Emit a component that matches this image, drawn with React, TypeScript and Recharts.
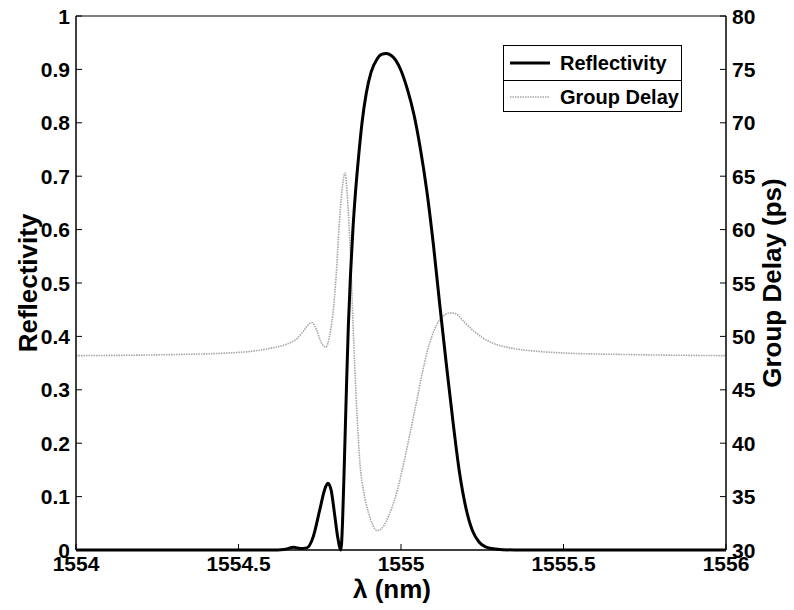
import React from "react";
import {
  LineChart,
  Line,
  XAxis,
  YAxis,
  Legend,
  Label,
  ReferenceLine,
} from "recharts";

// wavelength (nm) / reflectivity samples
const reflWl = [
  1554.0, 1554.6, 1554.64, 1554.67, 1554.69, 1554.71, 1554.73, 1554.75,
  1554.765, 1554.775, 1554.785, 1554.795, 1554.805, 1554.815, 1554.82,
  1554.826, 1554.832, 1554.838, 1554.845, 1554.852, 1554.86, 1554.87,
  1554.88, 1554.893, 1554.908, 1554.925, 1554.94, 1554.955, 1554.97,
  1554.985, 1555.0, 1555.02, 1555.04, 1555.06, 1555.08, 1555.1, 1555.12,
  1555.14, 1555.16, 1555.18, 1555.2, 1555.22, 1555.24, 1555.26, 1555.29,
  1555.35, 1556.0,
];
const reflVal = [
  0, 0, 0.001, 0.005, 0.003, 0.004, 0.025, 0.075, 0.113, 0.125, 0.112, 0.07,
  0.025, 0.0, 0.05, 0.17, 0.3, 0.42, 0.52, 0.6, 0.67, 0.74, 0.8, 0.855, 0.895,
  0.918, 0.928, 0.93, 0.926, 0.916, 0.898, 0.862, 0.815, 0.75, 0.67, 0.57,
  0.455, 0.345, 0.24, 0.145, 0.078, 0.036, 0.015, 0.006, 0.002, 0, 0,
];

// wavelength (nm) / group delay (ps)
const gdWl = [
  1554.0, 1554.3, 1554.5, 1554.6, 1554.65, 1554.68, 1554.7, 1554.715,
  1554.726, 1554.74, 1554.755, 1554.769, 1554.78, 1554.79, 1554.8, 1554.81,
  1554.818, 1554.824, 1554.828, 1554.834, 1554.84, 1554.846, 1554.852,
  1554.858, 1554.865, 1554.874, 1554.885, 1554.9, 1554.914, 1554.926,
  1554.94, 1554.955, 1554.97, 1554.988, 1555.0, 1555.018, 1555.035, 1555.05,
  1555.065, 1555.08, 1555.095, 1555.11, 1555.13, 1555.15, 1555.17, 1555.19,
  1555.22, 1555.25, 1555.28, 1555.34, 1555.42, 1555.5, 1555.7, 1556.0,
];
const gdVal = [
  48.2, 48.3, 48.5, 48.9, 49.3, 49.8, 50.5, 51.1, 51.3, 50.6, 49.4, 49.0,
  50.0, 52.0, 55.5, 60.5, 63.5, 65.0, 65.3, 63.5, 60.5, 56.5, 51.5, 47.0,
  42.5, 38.0, 35.5, 33.5, 32.3, 31.8, 32.0, 32.7, 33.8, 35.5, 37.0, 39.5,
  42.0, 44.2, 46.5, 48.5, 50.0, 51.1, 51.9, 52.2, 52.1, 51.5, 50.6, 49.9,
  49.4, 48.9, 48.6, 48.45, 48.3, 48.2,
];

const xTicks = [1554, 1554.5, 1555, 1555.5, 1556];
const leftTicks = [0, 0.1, 0.2, 0.3, 0.4, 0.5, 0.6, 0.7, 0.8, 0.9, 1];
const rightTicks = [30, 35, 40, 45, 50, 55, 60, 65, 70, 75, 80];

const seriesNames = ["Reflectivity", "Group Delay"];

const reflData = reflWl.map((wl, i) => ({ wl, r: reflVal[i] }));
const gdData = gdWl.map((wl, i) => ({ wl, gd: gdVal[i] }));

const FONT = "'Liberation Sans', Arial, sans-serif";
const titleStyle = { fontFamily: FONT, fontWeight: 700, fontSize: 26, fill: "#000" };
const tickFont = { fontFamily: FONT, fontWeight: 700, fontSize: 21, fill: "#000" };

const tickText = (x: number, y: number, anchor: string, value: any) => (
  <g>
    <text
      x={x}
      y={y}
      textAnchor={anchor}
      dominantBaseline="central"
      style={tickFont}
    >
      {String(value)}
    </text>
  </g>
);

const LeftTick = (p: any) => tickText(p.x, p.y, "end", p.payload.value);
const RightTick = (p: any) => tickText(p.x, p.y, "start", p.payload.value);
const BottomTick = (p: any) => tickText(p.x, p.y + 9, "middle", p.payload.value);

const LegendBox = () => (
  <div
    style={{
      width: 179,
      height: 67,
      border: "1px solid #000",
      background: "#fff",
      fontFamily: FONT,
      fontWeight: 700,
      fontSize: 20,
      boxSizing: "border-box",
    }}
  >
    <div style={{ display: "flex", alignItems: "center", height: 34, borderBottom: "1px solid #000" }}>
      <svg width={56} height={10}>
        <line x1={6} y1={5} x2={46} y2={5} stroke="#000" strokeWidth={3} />
      </svg>
      <span>{seriesNames[0]}</span>
    </div>
    <div style={{ display: "flex", alignItems: "center", height: 32 }}>
      <svg width={56} height={10}>
        <line x1={6} y1={5} x2={46} y2={5} stroke="#a6a6a6" strokeWidth={1.6} strokeDasharray="1.5 1" />
      </svg>
      <span>{seriesNames[1]}</span>
    </div>
  </div>
);

export default function App() {
  return (
    <div style={{ position: "absolute", left: 0, top: 0, background: "#fff" }}>
      <LineChart
        width={794}
        height={610}
        margin={{ top: 16, right: 0, bottom: 0, left: 0 }}
      >
        <XAxis
          dataKey="wl"
          type="number"
          domain={[1554, 1556]}
          ticks={xTicks}
          allowDataOverflow
          height={60}
          tickSize={-6}
          tickMargin={10}
          tick={BottomTick}
          axisLine={{ stroke: "#000", strokeWidth: 1.5 }}
          tickLine={{ stroke: "#000" }}
          interval={0}
        >
          <Label
            content={() => (
              <text x={392} y={589} textAnchor="middle" dominantBaseline="central" style={titleStyle}>
                λ (nm)
              </text>
            )}
          />
        </XAxis>
        <YAxis
          yAxisId="left"
          domain={[0, 1]}
          ticks={leftTicks}
          width={76}
          tickSize={-6}
          tickMargin={12}
          tick={LeftTick}
          axisLine={{ stroke: "#000", strokeWidth: 1.5 }}
          tickLine={{ stroke: "#000" }}
          interval={0}
        >
          <Label
            content={() => (
              <text
                x={28}
                y={283}
                transform="rotate(-90 28 283)"
                textAnchor="middle"
                dominantBaseline="central"
                style={titleStyle}
              >
                Reflectivity
              </text>
            )}
          />
        </YAxis>
        <YAxis
          yAxisId="right"
          orientation="right"
          domain={[30, 80]}
          ticks={rightTicks}
          width={68}
          tickSize={-6}
          tickMargin={12}
          tick={RightTick}
          axisLine={{ stroke: "#000", strokeWidth: 1.5 }}
          tickLine={{ stroke: "#000" }}
          interval={0}
        >
          <Label
            content={() => (
              <text
                x={772}
                y={283}
                transform="rotate(-90 772 283)"
                textAnchor="middle"
                dominantBaseline="central"
                style={titleStyle}
              >
                Group Delay (ps)
              </text>
            )}
          />
        </YAxis>
        <ReferenceLine yAxisId="left" y={1} stroke="#000" strokeWidth={1} />
        <Line
          yAxisId="right"
          data={gdData}
          dataKey="gd"
          name={seriesNames[1]}
          type="monotone"
          stroke="#a6a6a6"
          strokeWidth={1.6}
          strokeDasharray="1.5 1"
          dot={false}
          isAnimationActive={false}
        />
        <Line
          yAxisId="left"
          data={reflData}
          dataKey="r"
          name={seriesNames[0]}
          type="monotone"
          stroke="#000"
          strokeWidth={3}
          dot={false}
          isAnimationActive={false}
        />
        <Legend
          layout="vertical"
          align="center"
          verticalAlign="middle"
          wrapperStyle={{ position: "absolute", left: 503, top: 45, width: 179 }}
          content={() => <LegendBox />}
        />
      </LineChart>
    </div>
  );
}
